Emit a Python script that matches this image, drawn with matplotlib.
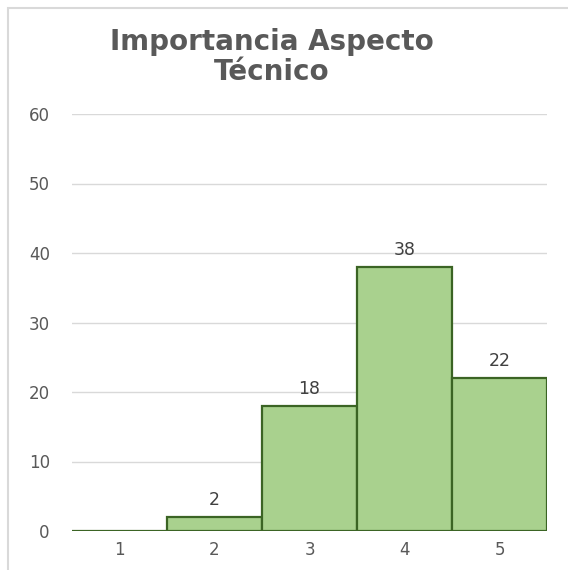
import matplotlib
matplotlib.use("Agg")
import matplotlib.pyplot as plt
from matplotlib.patches import Rectangle

categories = ["1", "2", "3", "4", "5"]
values = [0, 2, 18, 38, 22]
yticks = [0, 10, 20, 30, 40, 50, 60]
title = "Importancia Aspecto\nTécnico"

plt.rcParams['font.family'] = ['DejaVu Sans']

fig = plt.figure(figsize=(5.68, 5.70), dpi=100)
fig.patch.set_facecolor("white")
# chart frame
fig.add_artist(Rectangle((8/568, -0.05), 1.0, (570-8)/570 + 0.05, transform=fig.transFigure,
                         fill=False, edgecolor="#D9D9D9", linewidth=1.5))

ax = fig.add_axes([72/568, 39/570, (547-72)/568, (531-114)/570])
x = list(range(1, len(categories) + 1))
ax.bar(x, values, width=1.0, color="#A9D18E", edgecolor="#3B6424", linewidth=1.6, zorder=3)
for xi, v in zip(x, values):
    if v > 0:
        ax.annotate(str(v), (xi, v), xytext=(0, 6), textcoords="offset points",
                    ha="center", va="bottom", fontsize=12.5, color="#404040")

ax.set_xlim(0.5, 5.5)
ax.set_ylim(0, 60)
ax.set_yticks(yticks)
ax.set_xticks(x)
ax.set_xticklabels(categories)
ax.grid(axis="y", color="#D9D9D9", linewidth=1.0, zorder=0)
for s in ax.spines.values():
    s.set_visible(False)
ax.tick_params(axis="both", length=0, labelsize=12, labelcolor="#595959")
ax.tick_params(axis="y", pad=16)
ax.tick_params(axis="x", pad=7)

fig.text(272/568, 1 - 57/570, title, ha="center", va="center", fontsize=20,
         fontweight="bold", color="#595959", linespacing=1.1)

fig.savefig("out.png", dpi=100)
